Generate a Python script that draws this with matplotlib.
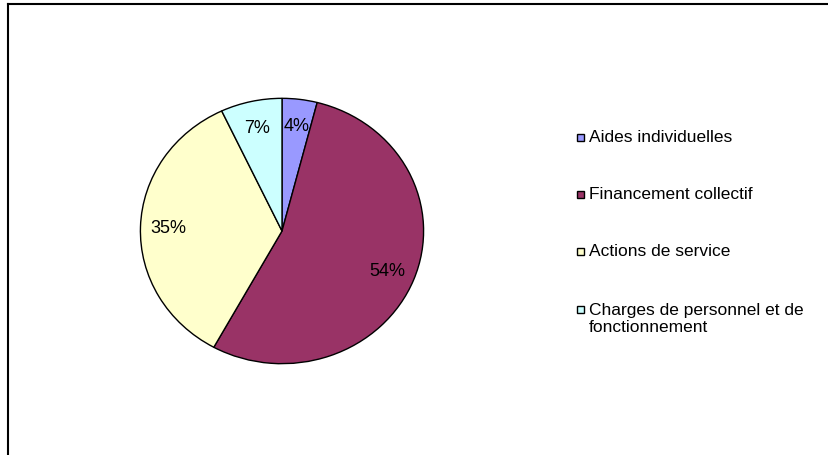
import matplotlib.pyplot as plt
from matplotlib.lines import Line2D
from matplotlib.patches import Rectangle

plt.rcParams['font.family'] = ['Liberation Sans', 'DejaVu Sans']

# data
labels = ['Aides individuelles', 'Financement collectif', 'Actions de service',
          'Charges de personnel et de\nfonctionnement']
values = [4, 54, 35, 7]
colors = ['#9999FF', '#993366', '#FFFFCC', '#CCFFFF']

W, H = 829, 456
fig = plt.figure(figsize=(W / 100, H / 100), dpi=100)

# outer frame (only left and top edges visible)
fig.add_artist(Line2D([8 / W, 8 / W], [0, 1 - 5 / H], color='black', lw=1.5))
fig.add_artist(Line2D([8 / W, 1], [1 - 5 / H, 1 - 5 / H], color='black', lw=1.5))

# pie, slightly squashed like the original
cx, cy, rx, ry = 282, 232, 143, 134
ax = fig.add_axes([(cx - rx) / W, (H - cy - ry) / H, 2 * rx / W, 2 * ry / H])
wedges, texts, autotexts = ax.pie(
    values, colors=colors, startangle=90, counterclock=False,
    autopct='%1.0f%%', pctdistance=0.8,
    wedgeprops=dict(edgecolor='black', linewidth=1.0),
    textprops=dict(fontsize=13, color='black'))
ax.set_aspect('auto')
ax.set_xlim(-1.01, 1.01)
ax.set_ylim(-1.01, 1.01)

# legend
ys = [138, 195, 252, 310]
for lab, col, y in zip(labels, colors, ys):
    fig.add_artist(Rectangle((577 / W, 1 - (y + 3.5) / H), 7 / W, 7 / H,
                             facecolor=col, edgecolor='black', lw=1.0,
                             transform=fig.transFigure))
    lines = lab.split('\n')
    for i, line in enumerate(lines):
        fig.text(589 / W, 1 - (y + 18 * i) / H, line, fontsize=12.5,
                 va='center', ha='left')

fig.savefig('out.png', dpi=100)
